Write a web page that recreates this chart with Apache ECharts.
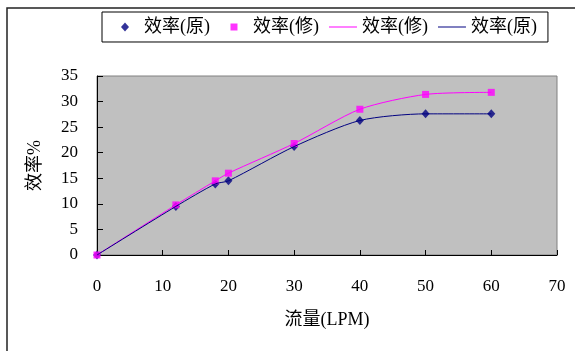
<!DOCTYPE html>
<html>
<head>
<meta charset="utf-8">
<script src="https://cdn.jsdelivr.net/npm/echarts@6/dist/echarts.min.js"></script>
<style>
  html, body { margin: 0; padding: 0; background: #fff; }
  #chart { width: 575px; height: 351px; }
</style>
</head>
<body>
<div id="chart"></div>
<script>
// Flow rate (LPM) and efficiency (%) measurements
const flow = [0, 12, 18, 20, 30, 40, 50, 60];
const effOriginal = [0, 9.5, 13.9, 14.5, 21.2, 26.3, 27.6, 27.6];
const effModified = [0, 9.8, 14.5, 16.0, 21.8, 28.5, 31.4, 31.8];
const xTicks = [0, 10, 20, 30, 40, 50, 60, 70];
const yTicks = [0, 5, 10, 15, 20, 25, 30, 35];

const NAVY = '#000080';
const PINK = '#FF00FF';
const FONT = '"Liberation Serif", "Noto Sans CJK TC", serif';

const pairs = ys => flow.map((x, i) => [x, ys[i]]);

// Legend keys share one 28x10 frame (the leading moves pin the bounds)
const KEY_FRAME = 'M0,0 M28,10 ';
const KEY_DIAMOND = 'path://' + KEY_FRAME + 'M14,0.5 L18,5 L14,9.5 L10,5 Z';
const KEY_SQUARE = 'path://' + KEY_FRAME + 'M10.5,1.5 L17.5,1.5 L17.5,8.5 L10.5,8.5 Z';
const KEY_LINE = 'path://' + KEY_FRAME + 'M0,4.5 L28,4.5 L28,5.5 L0,5.5 Z';

const chart = echarts.init(document.getElementById('chart'), null, { renderer: 'canvas' });

chart.setOption({
  animation: false,
  backgroundColor: '#fff',
  textStyle: { fontFamily: FONT },
  graphic: [{
    type: 'rect',
    shape: { x: 7, y: 8, width: 620, height: 420 },
    style: { fill: 'none', stroke: '#222', lineWidth: 1.5 },
    silent: true
  }],
  legend: {
    left: 102,
    top: 12,
    padding: [6, 11, 6, 9],
    itemGap: 10,
    itemWidth: 28,
    itemHeight: 10,
    borderColor: '#000',
    borderWidth: 1,
    backgroundColor: '#fff',
    textStyle: { fontFamily: FONT, fontSize: 18, color: '#000' },
    formatter: name => name.split('|')[0],
    data: [
      { name: '效率(原)', icon: KEY_DIAMOND },
      { name: '效率(修)', icon: KEY_SQUARE },
      { name: '效率(修)|线', icon: KEY_LINE },
      { name: '效率(原)|线', icon: KEY_LINE }
    ]
  },
  grid: {
    left: 97, top: 76, right: 18, bottom: 96,
    show: true,
    backgroundColor: '#C0C0C0',
    borderColor: '#808080',
    borderWidth: 1
  },
  xAxis: {
    type: 'value',
    min: xTicks[0],
    max: xTicks[xTicks.length - 1],
    interval: xTicks[1] - xTicks[0],
    name: '流量(LPM)',
    nameLocation: 'middle',
    nameGap: 56,
    nameTextStyle: { fontFamily: FONT, fontSize: 18, color: '#000' },
    axisLine: { show: true, lineStyle: { color: '#000', width: 1 } },
    axisTick: { show: true, inside: true, length: 5, lineStyle: { color: '#000' } },
    axisLabel: { fontFamily: FONT, fontSize: 17, color: '#000', margin: 23 },
    splitLine: { show: false }
  },
  yAxis: {
    type: 'value',
    min: yTicks[0],
    max: yTicks[yTicks.length - 1],
    interval: yTicks[1] - yTicks[0],
    name: '效率%',
    nameLocation: 'middle',
    nameRotate: 90,
    nameGap: 53,
    nameTextStyle: { fontFamily: FONT, fontSize: 18, color: '#000' },
    axisLine: { show: true, lineStyle: { color: '#000', width: 1 } },
    axisTick: { show: true, inside: true, length: 6, lineStyle: { color: '#000' } },
    axisLabel: { fontFamily: FONT, fontSize: 17, color: '#000', margin: 19 },
    splitLine: { show: false }
  },
  series: [
    {
      name: '效率(原)',
      type: 'scatter',
      symbol: 'diamond',
      symbolSize: [8, 9],
      clip: false,
      itemStyle: { color: NAVY },
      data: pairs(effOriginal)
    },
    {
      name: '效率(修)',
      type: 'scatter',
      symbol: 'rect',
      symbolSize: 7,
      clip: false,
      itemStyle: { color: PINK },
      data: pairs(effModified)
    },
    {
      name: '效率(修)|线',
      type: 'line',
      smooth: 0.25,
      showSymbol: false,
      symbol: 'none',
      lineStyle: { color: PINK, width: 1 },
      itemStyle: { color: PINK },
      data: pairs(effModified)
    },
    {
      name: '效率(原)|线',
      type: 'line',
      smooth: 0.25,
      showSymbol: false,
      symbol: 'none',
      lineStyle: { color: NAVY, width: 1 },
      itemStyle: { color: NAVY },
      data: pairs(effOriginal)
    }
  ]
});
</script>
</body>
</html>
